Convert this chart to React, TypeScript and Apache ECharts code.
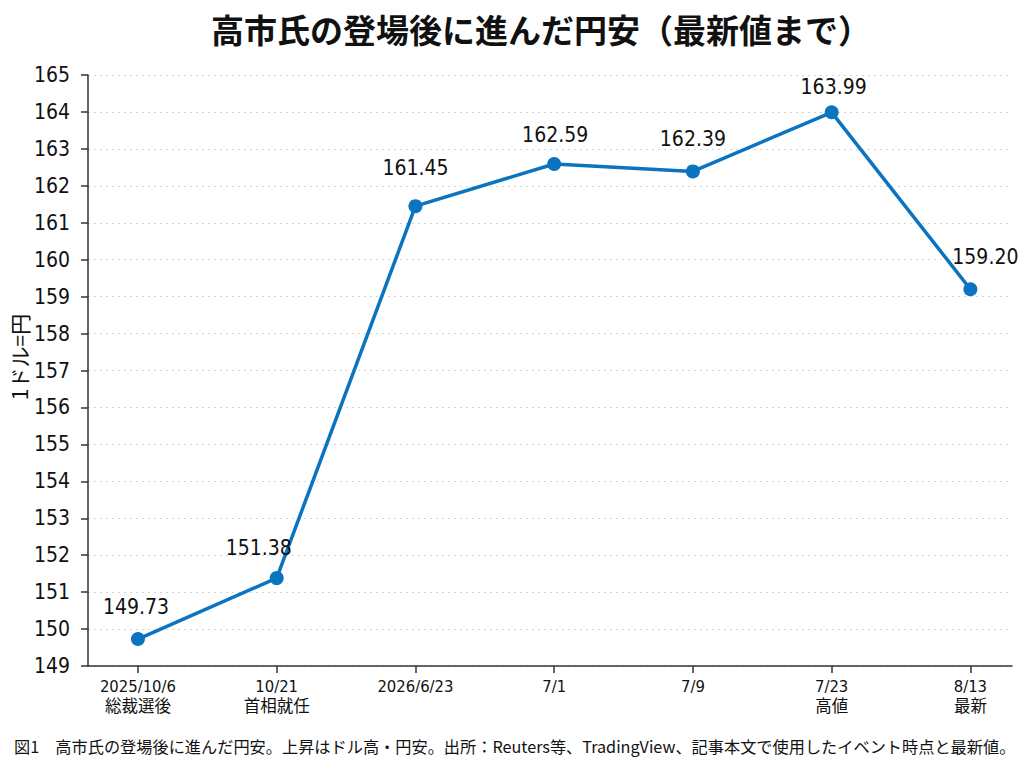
import React, { useEffect, useRef } from "react";
import * as echarts from "echarts";

const TITLE = "高市氏の登場後に進んだ円安（最新値まで）";
const CAPTION =
  "図1　高市氏の登場後に進んだ円安。上昇はドル高・円安。出所：Reuters等、TradingView、記事本文で使用したイベント時点と最新値。";
const Y_NAME = "1ドル=円";
const CATEGORIES = [
  "2025/10/6\n総裁選後",
  "10/21\n首相就任",
  "2026/6/23",
  "7/1",
  "7/9",
  "7/23\n高値",
  "8/13\n最新",
];
const VALUES = [149.73, 151.38, 161.45, 162.59, 162.39, 163.99, 159.2];
const Y_MIN = 149;
const Y_MAX = 165;

// label offsets (styling only)
const LABEL_OFFSETS: [number, number][] = [
  [-2, -14],
  [-18, -12],
  [0, -20],
  [1, -11],
  [0, -14],
  [2, -7],
  [15, -14],
];

const NUM_FONT = "'DejaVu Sans Condensed', 'Noto Sans CJK JP', sans-serif";
const JP_FONT = "'Noto Sans CJK JP', sans-serif";
const BLUE = "#0b74c0";

export default function App() {
  const ref = useRef<HTMLDivElement>(null);
  useEffect(() => {
    document.body.style.margin = "0";
    const chart = echarts.init(ref.current!, undefined, { renderer: "svg" });
    const data = VALUES.map((v, i) => ({
      value: [i, v],
      label: { offset: LABEL_OFFSETS[i] },
    }));
    chart.setOption({
      animation: false,
      backgroundColor: "#ffffff",
      textStyle: { fontFamily: JP_FONT },
      grid: { left: 88, right: 12, top: 75, bottom: 102, outerBoundsMode: "none", containLabel: false },
      graphic: [
        {
          type: "text",
          x: 541,
          y: 29,
          style: {
            text: TITLE,
            fontSize: 33,
            fontWeight: "bold",
            fontFamily: JP_FONT,
            fill: "#111",
            textAlign: "center",
            textVerticalAlign: "middle",
          },
        },
        {
          type: "text",
          x: 14,
          y: 746,
          style: {
            text: CAPTION,
            fontSize: 16.2,
            fontFamily: JP_FONT,
            fill: "#111",
            textAlign: "left",
            textVerticalAlign: "middle",
          },
        },
        {
          type: "text",
          x: 19,
          y: 357,
          rotation: Math.PI / 2,
          style: {
            text: Y_NAME,
            fontSize: 21,
            fontFamily: JP_FONT,
            fill: "#111",
            textAlign: "center",
            textVerticalAlign: "middle",
          },
        },
      ],
      xAxis: {
        type: "value",
        min: -0.36,
        max: 6.3,
        splitLine: { show: false },
        axisLine: { onZero: false, lineStyle: { color: "#333", width: 1.5 } },
        axisTick: {
          show: true,
          length: 7,
          customValues: CATEGORIES.map((_, i) => i),
          lineStyle: { color: "#333", width: 1.5 },
        },
        axisLabel: {
          customValues: CATEGORIES.map((_, i) => i),
          formatter: (v: number) => CATEGORIES[Math.round(v)] ?? "",
          fontSize: 16.5,
          lineHeight: 20,
          color: "#111",
          fontFamily: NUM_FONT,
          margin: 10,
        },
      },
      yAxis: {
        type: "value",
        min: Y_MIN,
        max: Y_MAX,
        interval: 1,
        axisLine: { show: true, onZero: false, lineStyle: { color: "#333", width: 1.5 } },
        axisTick: { show: true, length: 7, lineStyle: { color: "#333", width: 1.5 } },
        axisLabel: { fontSize: 21, color: "#111", fontFamily: NUM_FONT, margin: 18 },
        splitLine: { show: true, lineStyle: { color: "#d4d4d4", type: [2, 4], width: 1 } },
      },
      series: [
        {
          type: "line",
          data,
          lineStyle: { color: BLUE, width: 3.5 },
          itemStyle: { color: BLUE },
          symbol: "circle",
          symbolSize: 14,
          label: {
            show: true,
            position: "top",
            distance: 0,
            fontSize: 21,
            lineHeight: 22,
            color: "#111",
            fontFamily: NUM_FONT,
            formatter: (p: any) => p.value[1].toFixed(2),
          },
        },
      ],
    });
    return () => chart.dispose();
  }, []);
  return (
    <div
      ref={ref}
      style={{ position: "absolute", left: 0, top: 0, width: 1024, height: 768 }}
    />
  );
}
